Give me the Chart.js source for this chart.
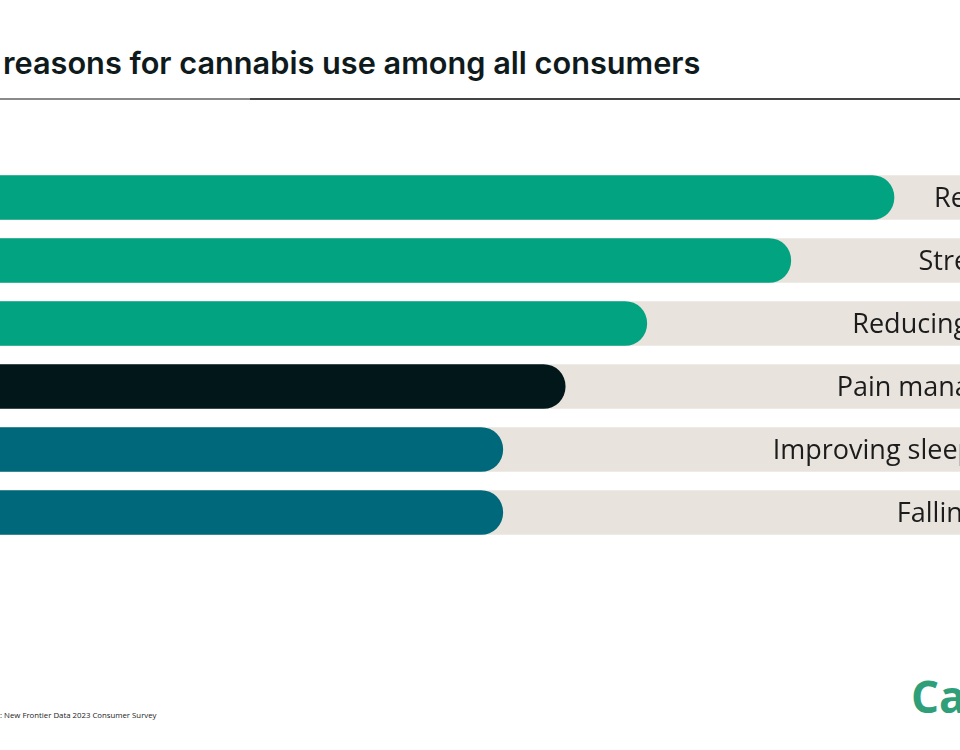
<!DOCTYPE html>
<html lang="en">
<head>
    <meta charset="UTF-8">
    <title>Top reasons for cannabis use among all consumers</title>
    <script src="https://cdn.jsdelivr.net/npm/chart.js"></script>
    <style>
        html, body { margin: 0; padding: 0; width: 960px; height: 750px; overflow: hidden; background: #fff; }
        #titulo { position: absolute; left: 3px; top: 44px; font-family: "Inter"; font-weight: 600; font-size: 30.7px; color: #0f1a1c; white-space: nowrap; }
        .antes { position: absolute; right: 100%; white-space: pre; }
        #linea1 { position: absolute; left: 0; top: 98px; width: 250px; height: 2px; background: #8a8a8a; }
        #linea2 { position: absolute; left: 250px; top: 98px; width: 710px; height: 1.5px; background: #444; }
        #grafico-wrap { position: absolute; left: -120px; top: 166px; width: 1200px; height: 378px; }
        #fuente { position: absolute; left: 0; top: 710px; font-family: "Open Sans"; font-size: 7.8px; color: #222; white-space: nowrap; }
        #logo { position: absolute; left: 911px; top: 666px; font-family: "Open Sans"; font-weight: 700; font-size: 44px; color: #2f9f7a; white-space: nowrap; }
    </style>
</head>
<body>
    <div id="titulo"><span class="antes">Top </span>reasons for cannabis use among all consumers</div>
    <div id="linea1"></div>
    <div id="linea2"></div>

    <div id="grafico-wrap">
        <canvas id="grafico"></canvas>
    </div>

    <div id="fuente"><span class="antes">Source</span>: New Frontier Data 2023 Consumer Survey</div>
    <div id="logo">Cannabis</div>

    <script>
        // datos (% de consumidores)
        const categorias = ['Relaxation', 'Stress relief', 'Reducing anxiety', 'Pain management', 'Improving sleep quality', 'Falling asleep'];
        const valores = [84.5, 75.9, 63.9, 57.1, 51.9, 51.9];
        const fondo = [100, 100, 100, 100, 100, 100];

        const colores = ['#02a380', '#02a380', '#02a380', '#02171a', '#00687b', '#00687b'];

        const etiquetas = {
            id: 'etiquetas',
            afterDatasetsDraw(chart) {
                const { ctx, chartArea, scales } = chart;
                ctx.save();
                ctx.font = '27px "Open Sans"';
                ctx.fillStyle = '#1c1c1c';
                ctx.textAlign = 'right';
                ctx.textBaseline = 'middle';
                categorias.forEach((c, i) => {
                    ctx.fillText(c, chartArea.right - 14, scales.y.getPixelForValue(i) + 2);
                });
                ctx.restore();
            }
        };

        const ctx = document.getElementById('grafico').getContext('2d');
        const grafico = new Chart(ctx, {
            type: 'bar',
            data: {
                labels: categorias,
                datasets: [{
                    label: 'Consumers',
                    data: valores,
                    backgroundColor: colores,
                    borderRadius: 22,
                    borderSkipped: false,
                    barThickness: 44,
                    grouped: false,
                    order: 1
                }, {
                    label: 'Fondo',
                    data: fondo,
                    backgroundColor: '#e8e3dd',
                    barThickness: 44,
                    grouped: false,
                    order: 2
                }]
            },
            options: {
                indexAxis: 'y',
                responsive: true,
                maintainAspectRatio: false,
                animation: false,
                layout: { padding: 0 },
                plugins: { legend: { display: false }, tooltip: { enabled: false } },
                scales: {
                    x: { display: false, min: 0, max: 100 },
                    y: { display: false }
                }
            },
            plugins: [etiquetas]
        });
    </script>
</body>
</html>
